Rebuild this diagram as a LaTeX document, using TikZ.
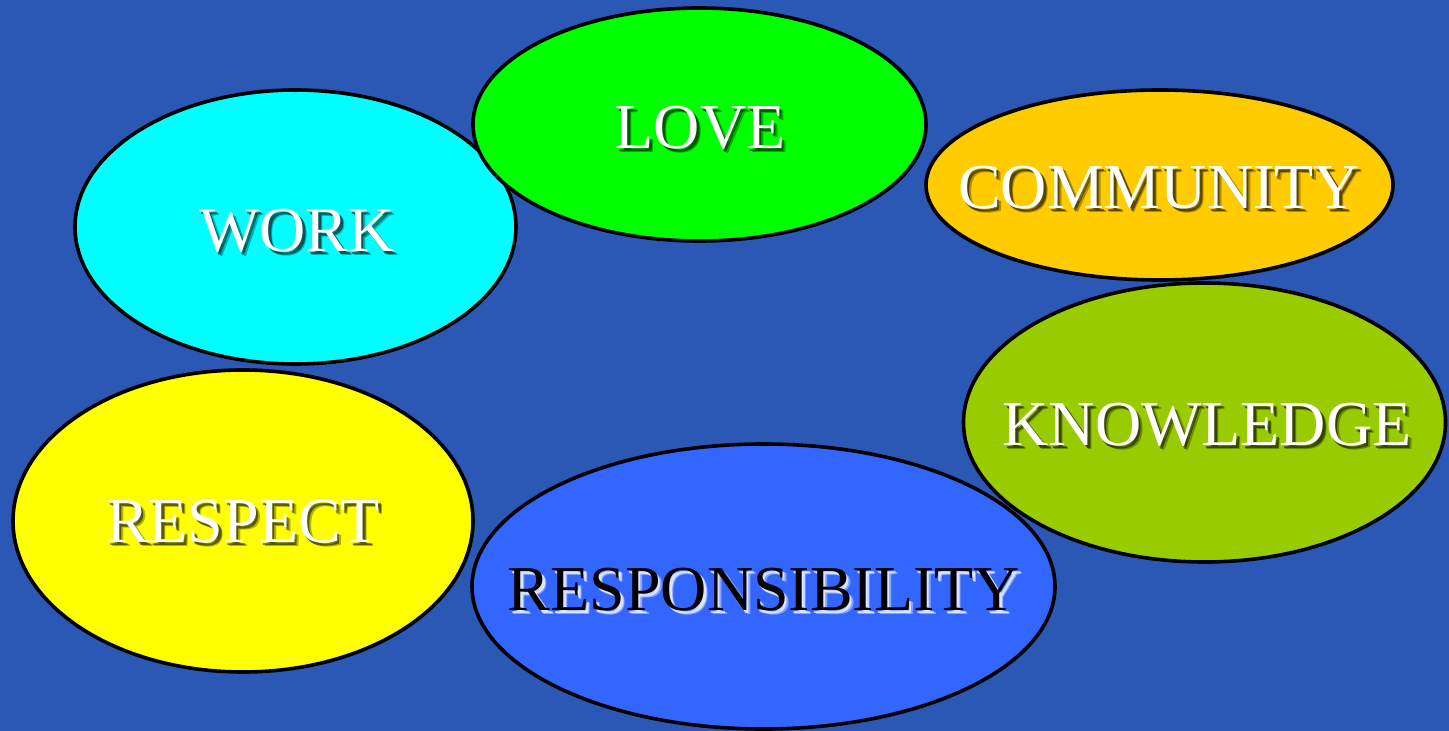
\documentclass[tikz,border=0pt]{standalone}
\usepackage{fontspec}
\setmainfont{Liberation Serif}
\usetikzlibrary{shapes.geometric}
\definecolor{slidebg}{HTML}{2B58B5}
\definecolor{lovegreen}{HTML}{00FF00}
\definecolor{workcyan}{HTML}{00FFFF}
\definecolor{commorange}{HTML}{FFCC00}
\definecolor{knowgreen}{HTML}{99CC00}
\definecolor{respyellow}{HTML}{FFFF00}
\definecolor{resblue}{HTML}{3366FF}

\begin{document}
\begin{tikzpicture}[x=0.5pt,y=-0.5pt,
  blob/.style={ellipse,draw=black,line width=1.8pt,inner sep=0pt},
  word/.style={font=\fontsize{32}{32}\selectfont,text=white,inner sep=0pt},
  wordshadow/.style={font=\fontsize{32}{32}\selectfont,text=black,text opacity=0.5,inner sep=0pt,xshift=1.2pt,yshift=-1.2pt},
  wordblur/.style={font=\fontsize{32}{32}\selectfont,text=black,text opacity=0.3,inner sep=0pt,xshift=2pt,yshift=-2pt}]
  \fill[slidebg] (0,0) rectangle (1449,731);
  \useasboundingbox (0,0) rectangle (1449,731);
  % the six ellipses
  \node[blob,fill=workcyan,minimum width=220.5pt,minimum height=137pt] (work) at (295.5,227) {};
  \node[blob,fill=lovegreen,minimum width=226.5pt,minimum height=116.5pt] (love) at (699.5,124.5) {};
  \node[blob,fill=commorange,minimum width=233.5pt,minimum height=95pt] (comm) at (1159.5,185) {};
  \node[blob,fill=knowgreen,minimum width=241pt,minimum height=139.5pt] (know) at (1204.5,422.5) {};
  \node[blob,fill=respyellow,minimum width=230pt,minimum height=151pt] (resp) at (243,521) {};
  \node[blob,fill=resblue,minimum width=291.5pt,minimum height=142.5pt] (resb) at (763.5,586.5) {};
  % labels with drop shadows
  \foreach \pos/\txt in {{(700,128)}/LOVE,{(297,231)}/WORK,{(1159,188)}/COMMUNITY,{(1207,425)}/KNOWLEDGE,{(243,522)}/RESPECT}{
    \node[wordblur] at \pos {\txt};
    \node[wordshadow] at \pos {\txt};
    \node[word] at \pos {\txt};
  }
  \node[wordblur,text=white,text opacity=0.4] at (764,590) {RESPONSIBILITY};
  \node[wordshadow,text=white,text opacity=0.7] at (764,590) {RESPONSIBILITY};
  \node[word,text=black] (resb-txt) at (764,590) {RESPONSIBILITY};
\end{tikzpicture}
\end{document}
